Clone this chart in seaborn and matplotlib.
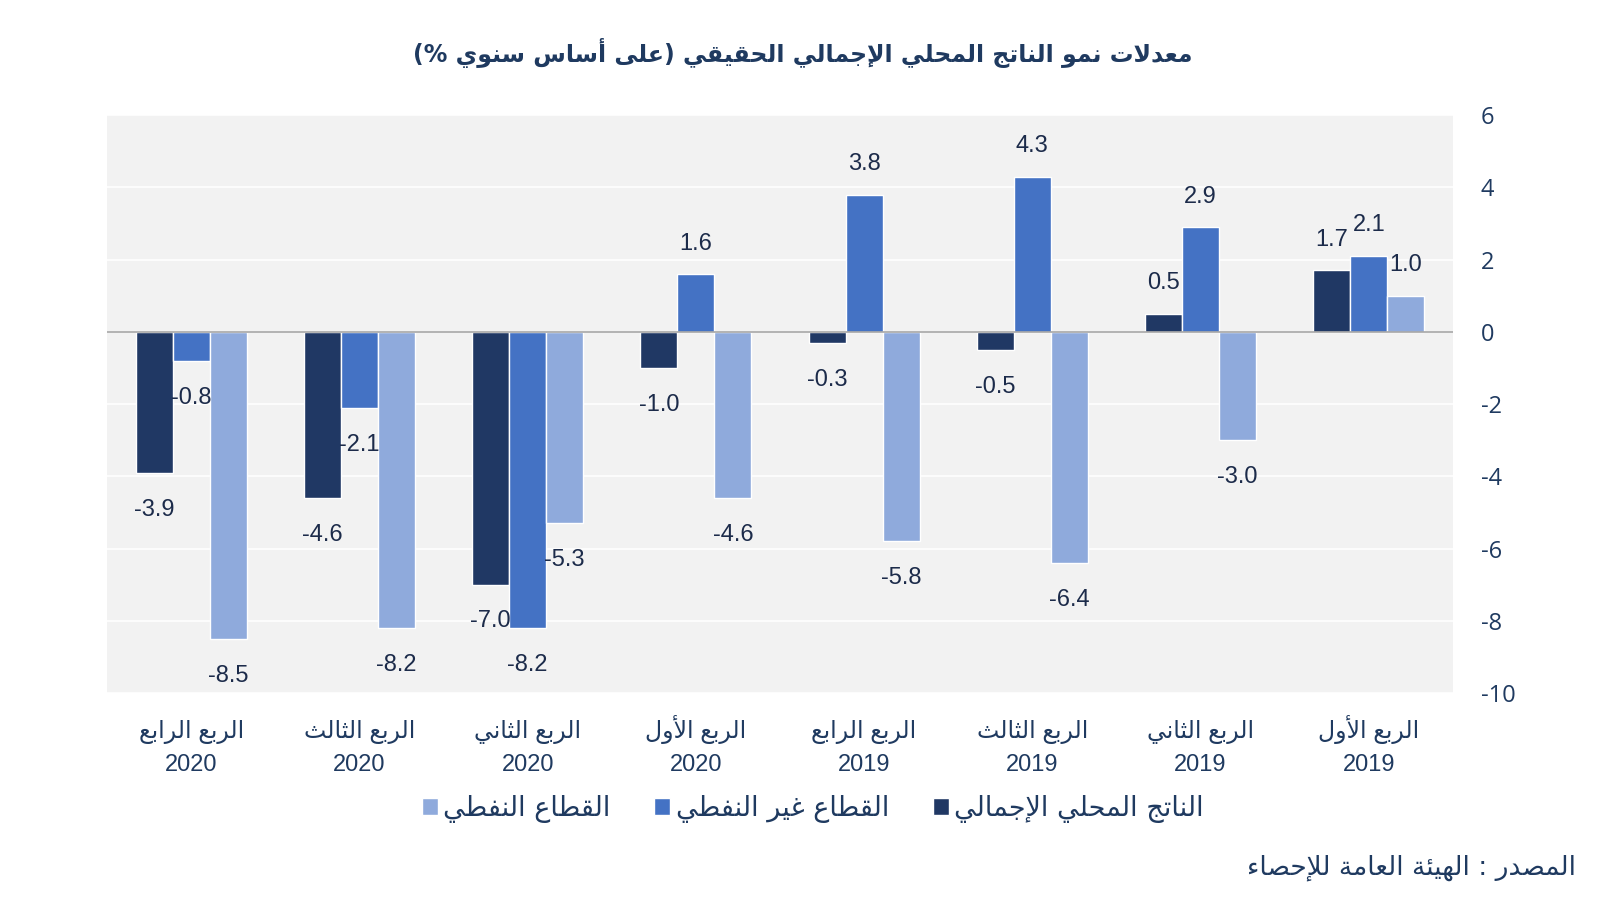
import numpy as np
import pandas as pd
import matplotlib
matplotlib.use('Agg')
import matplotlib.pyplot as plt
import seaborn as sns

# Datos (de derecha a izquierda en el gráfico: Q1 2019 -> Q4 2020)
quarters = ['الربع الأول', 'الربع الثاني', 'الربع الثالث', 'الربع الرابع',
            'الربع الأول', 'الربع الثاني', 'الربع الثالث', 'الربع الرابع']
years = ['2019', '2019', '2019', '2019', '2020', '2020', '2020', '2020']
gdp = [1.7, 0.5, -0.5, -0.3, -1.0, -7.0, -4.6, -3.9]
non_oil = [2.1, 2.9, 4.3, 3.8, 1.6, -8.2, -2.1, -0.8]
oil = [1.0, -3.0, -6.4, -5.8, -4.6, -5.3, -8.2, -8.5]

series_names = ['الناتج المحلي الإجمالي', 'القطاع غير النفطي', 'القطاع النفطي']
colors = ['#203864', '#4472c4', '#8faadc']
title = 'معدلات نمو الناتج المحلي الإجمالي الحقيقي (على أساس سنوي %)'
source = 'المصدر : الهيئة العامة للإحصاء'
yticks = [-10, -8, -6, -4, -2, 0, 2, 4, 6]

TXT = '#1f3a60'

# Conformación mínima del árabe (formas de presentación + orden visual)
ISO = {
    'ء': (0xFE80, 'U'), 'آ': (0xFE81, 'R'), 'أ': (0xFE83, 'R'), 'ؤ': (0xFE85, 'R'),
    'إ': (0xFE87, 'R'), 'ئ': (0xFE89, 'D'), 'ا': (0xFE8D, 'R'), 'ب': (0xFE8F, 'D'),
    'ة': (0xFE93, 'R'), 'ت': (0xFE95, 'D'), 'ث': (0xFE99, 'D'), 'ج': (0xFE9D, 'D'),
    'ح': (0xFEA1, 'D'), 'خ': (0xFEA5, 'D'), 'د': (0xFEA9, 'R'), 'ذ': (0xFEAB, 'R'),
    'ر': (0xFEAD, 'R'), 'ز': (0xFEAF, 'R'), 'س': (0xFEB1, 'D'), 'ش': (0xFEB5, 'D'),
    'ص': (0xFEB9, 'D'), 'ض': (0xFEBD, 'D'), 'ط': (0xFEC1, 'D'), 'ظ': (0xFEC5, 'D'),
    'ع': (0xFEC9, 'D'), 'غ': (0xFECD, 'D'), 'ف': (0xFED1, 'D'), 'ق': (0xFED5, 'D'),
    'ك': (0xFED9, 'D'), 'ل': (0xFEDD, 'D'), 'م': (0xFEE1, 'D'), 'ن': (0xFEE5, 'D'),
    'ه': (0xFEE9, 'D'), 'و': (0xFEED, 'R'), 'ى': (0xFEEF, 'R'), 'ي': (0xFEF1, 'D'),
}
LAM_ALEF = {'آ': 0xFEF5, 'أ': 0xFEF7, 'إ': 0xFEF9, 'ا': 0xFEFB}
MIRROR = {'(': ')', ')': '('}


def shape_line(text):
    units = []
    i = 0
    while i < len(text):
        c = text[i]
        if c == 'ل' and i + 1 < len(text) and text[i + 1] in LAM_ALEF:
            units.append(('LA', text[i + 1]))
            i += 2
        else:
            units.append(('C', c))
            i += 1

    def jt(u):
        if u[0] == 'LA':
            return 'R'
        return ISO[u[1]][1] if u[1] in ISO else None

    out = []
    for k, u in enumerate(units):
        t = jt(u)
        prev = jt(units[k - 1]) if k > 0 else None
        nxt = jt(units[k + 1]) if k + 1 < len(units) else None
        jp = t in ('D', 'R') and prev == 'D'
        jn = t == 'D' and nxt in ('D', 'R')
        if u[0] == 'LA':
            out.append(chr(LAM_ALEF[u[1]] + (1 if jp else 0)))
        elif t is None:
            out.append(u[1])
        elif t == 'U':
            out.append(chr(ISO[u[1]][0]))
        else:
            off = 3 if (jp and jn) else 1 if jp else 2 if jn else 0
            out.append(chr(ISO[u[1]][0] + off))
    return ''.join(MIRROR.get(c, c) for c in reversed(out))


def ar(text):
    return '\n'.join(shape_line(l) if any(ch in ISO for ch in l) else l
                     for l in text.split('\n'))


labels = [ar(q + '\n' + y) for q, y in zip(quarters, years)]

df = pd.DataFrame({
    'quarter': labels * 3,
    'series': sum([[s] * len(labels) for s in series_names], []),
    'value': gdp + non_oil + oil,
})

sns.set_theme(style='white')
plt.rcParams['font.family'] = ['Liberation Sans', 'DejaVu Sans']
plt.rcParams['axes.unicode_minus'] = False

fig = plt.figure(figsize=(16, 9), dpi=100)
ax = fig.add_axes([0.0669, 0.23, 0.8412, 0.642])
ax.set_facecolor('#f2f2f2')

sns.barplot(data=df, x='quarter', y='value', hue='series',
            order=labels[::-1], hue_order=series_names,
            palette=dict(zip(series_names, colors)),
            width=0.66, saturation=1, gap=0, ax=ax, zorder=3)

# etiquetas de datos
for cont in ax.containers:
    for bar in cont:
        v = bar.get_height()
        xc = bar.get_x() + bar.get_width() / 2
        off = 22 if v >= 0 else -26.5
        ax.annotate(f'{v:.1f}', (xc, v), xytext=(0, off), textcoords='offset points',
                    ha='center', va='center', fontsize=17, color='#1c2b4a', zorder=5)

ax.set_ylim(-10, 6)
ax.set_xlim(-0.5, 7.5)
ax.set_yticks(yticks)
ax.yaxis.tick_right()
ax.grid(axis='y', color='white', linewidth=1.2, zorder=0)
ax.axhline(0, color='#a6a6a6', linewidth=1.2, zorder=4)
for sp in ax.spines.values():
    sp.set_visible(False)
ax.set_xlabel('')
ax.set_ylabel('')
ax.tick_params(axis='y', length=0, pad=20, labelsize=17, labelcolor=TXT)
ax.tick_params(axis='x', length=0, pad=56, labelcolor=TXT)
for t in ax.get_yticklabels():
    t.set_family(['Open Sans', 'DejaVu Sans'])
for t in ax.get_xticklabels():
    t.set_fontsize(17)
    t.set_linespacing(1.6)
    t.set_family(['Liberation Sans', 'DejaVu Sans'])
    t.set_verticalalignment('baseline')

handles, _ = ax.get_legend_handles_labels()
ax.legend(handles[::-1], [ar(s) for s in series_names[::-1]],
          loc='center', bbox_to_anchor=(0.508, 0.101), bbox_transform=fig.transFigure,
          ncol=3, frameon=False, markerfirst=True,
          handlelength=0.6, handleheight=0.6, handletextpad=0.2, columnspacing=1.6,
          labelcolor=TXT, prop={'family': ['DejaVu Sans'], 'size': 19.5})

fig.text(0.502, 0.941, ar(title), ha='center', va='center', fontsize=17,
         fontweight='bold', color=TXT, family=['DejaVu Sans'])
fig.text(0.985, 0.036, ar(source), ha='right', va='center', fontsize=19,
         color=TXT, family=['DejaVu Sans'])

fig.savefig('out.png', dpi=100, facecolor='white')
